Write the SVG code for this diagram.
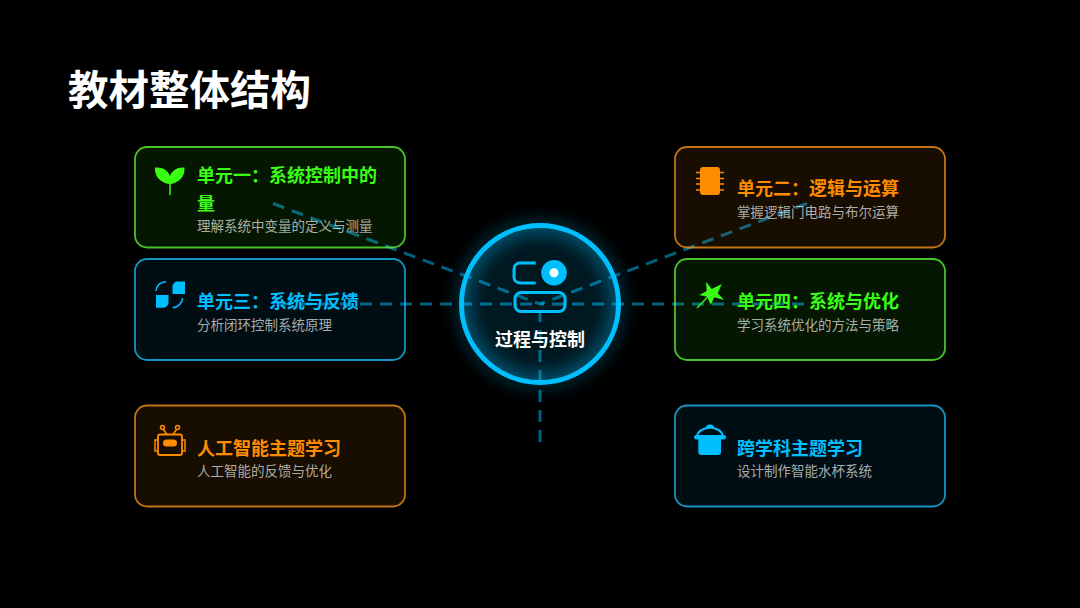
<svg xmlns="http://www.w3.org/2000/svg" width="1080" height="608" viewBox="0 0 1080 608">
<style>
text{font-family:"Noto Sans CJK SC","Noto Sans",sans-serif}
.h{font-size:40.500px;font-weight:700;fill:#fff}
.t{font-size:18px;font-weight:700}
.s{font-size:13.500px;fill:#fff;fill-opacity:.66}
.card{stroke-width:1.800;stroke-opacity:.75}
.g .card{fill:#39ff14;fill-opacity:.09;stroke:#5dff3a}
.o .card{fill:#ff8c00;fill-opacity:.09;stroke:#ff9a1f}
.b .card{fill:#00bfff;fill-opacity:.07;stroke:#1cc4ff}
.g .t{fill:#39ff14}.o .t{fill:#ff8c00}.b .t{fill:#00bfff}
.g .f{fill:#39ff14}.o .f{fill:#ff8c00}.b .f{fill:#00bfff}
.g .l{stroke:#39ff14;fill:none}.o .l{stroke:#ff8c00;fill:none}.b .l{stroke:#00bfff;fill:none}
#connectors line{stroke:#00bfff;stroke-opacity:.5;stroke-width:3;stroke-dasharray:12 8}
</style>
<defs>
<radialGradient id="cg" cx=".5" cy=".5" r=".5"><stop offset="0" stop-color="#00bfff" stop-opacity=".12"/><stop offset=".7" stop-color="#00bfff" stop-opacity=".13"/><stop offset="1" stop-color="#00bfff" stop-opacity=".3"/></radialGradient>
<filter id="blur" x="-30%" y="-30%" width="160%" height="160%"><feGaussianBlur stdDeviation="8"/></filter>
</defs>
<rect width="1080" height="608" fill="#000"/>
<text class="h" x="68" y="105">教材整体结构</text>
<g id="connectors">
<line x1="273" y1="203.500" x2="540" y2="304"/>
<line x1="807" y1="203.500" x2="540" y2="304"/>
<line x1="280" y1="304" x2="540" y2="304"/>
<line x1="804" y1="304" x2="540" y2="304"/>
<line x1="540" y1="442" x2="540" y2="304"/>
</g>
<g id="unit1" class="g">
<rect class="card" x="135" y="147" width="270" height="100.500" rx="12"/>
<path class="f" d="M169.500 184C161 183 154.500 177 155 167.500C162 166.800 168 170 170 176C172 170 178 166.800 184.500 167.500C185 177 178.500 183 170.500 184Z"/>
<path class="l" stroke-width="1.500" d="M170 180V195"/>
<text class="t" x="197" y="182">单元一：系统控制中的</text>
<text class="t" x="197" y="210">量</text>
<text class="s" x="197" y="231">理解系统中变量的定义与测量</text>
</g>
<g id="unit3" class="b">
<rect class="card" x="135" y="259" width="270" height="101" rx="12"/>
<path class="f" d="M185 281.500V294H172.500V287C172.500 283.500 175 281.500 178 281.500ZM156 295H168.500V302C168.500 305.500 166 307.800 162 307.800H156Z"/>
<path class="l" stroke-width="1.500" d="M156 291C156 286 160 282 166 281.800M182.500 298C182.500 303 178 307.500 172.700 307.700"/>
<text class="t" x="197" y="308">单元三：系统与反馈</text>
<text class="s" x="197" y="330">分析闭环控制系统原理</text>
</g>
<g id="unit5" class="o">
<rect class="card" x="135" y="405.500" width="270" height="101" rx="12"/>
<rect class="l" stroke-width="1.800" x="158" y="434.500" width="24" height="20.500" rx="2"/>
<path class="l" stroke-width="1.500" d="M158 440H155V451H158M182 440H185V451H182M167 434.500L163.500 429.500M173 434.500L176.500 429.500"/>
<circle class="l" stroke-width="1.500" cx="162.500" cy="427.500" r="2"/>
<circle class="l" stroke-width="1.500" cx="177.500" cy="427.500" r="2"/>
<rect class="f" x="163" y="439.500" width="14" height="7" rx="3.500"/>
<text class="t" x="197" y="454.500">人工智能主题学习</text>
<text class="s" x="197" y="476">人工智能的反馈与优化</text>
</g>
<g id="unit2" class="o">
<rect class="card" x="675" y="147" width="270" height="100.500" rx="12"/>
<rect class="f" x="700" y="167" width="20" height="28" rx="3"/>
<path class="l" stroke-width="1.500" d="M696 172.500H724M696 178.500H724M696 184H724M696 190H724"/>
<text class="t" x="737" y="195">单元二：逻辑与运算</text>
<text class="s" x="737" y="217">掌握逻辑门电路与布尔运算</text>
</g>
<g id="unit4" class="g">
<rect class="card" x="675" y="259" width="270" height="101" rx="12"/>
<polygon class="f" points="706,281.700 711.700,289 721.700,284 717.700,293.300 724,300 714.300,297.300 710.700,305 707.300,296.700 699.300,295 706.700,291"/>
<path class="l" stroke-width="1.200" d="M708 296.500L697 308"/>
<text class="t" x="737" y="308">单元四：系统与优化</text>
<text class="s" x="737" y="330">学习系统优化的方法与策略</text>
</g>
<g id="unit6" class="b">
<rect class="card" x="675" y="405.500" width="270" height="101" rx="12"/>
<path class="l" stroke-width="2" d="M696.500 437C698 431 704 428 710 427.500C716 428 722 431 723.500 437"/>
<path class="f" d="M706 428C706 425 708 424.500 710 424.500C712 424.500 714 425 714 428Z"/>
<rect class="f" x="694" y="435" width="32" height="4.500" rx="2.200"/>
<path class="f" d="M698.300 438H721V452C721 454 720 455 718 455H701.300C699.300 455 698.300 454 698.300 452Z"/>
<text class="t" x="737" y="454.500">跨学科主题学习</text>
<text class="s" x="737" y="476">设计制作智能水杯系统</text>
</g>
<g id="center">
<circle cx="540" cy="304" r="80" fill="none" stroke="#00bfff" stroke-width="6" stroke-opacity=".45" filter="url(#blur)"/>
<circle cx="540" cy="304" r="78.500" fill="url(#cg)" stroke="#00bfff" stroke-width="5"/>
<path d="M535.700 263H520C516.500 263 514 265.500 514 269V277C514 280.500 516.500 283 520 283H535.700" fill="none" stroke="#00bfff" stroke-width="3"/>
<circle cx="554" cy="272.700" r="12.800" fill="#00bfff"/>
<circle cx="554" cy="272.700" r="4.500" fill="#fff"/>
<rect x="515" y="292.500" width="50" height="19" rx="6" fill="none" stroke="#00bfff" stroke-width="3"/>
<text x="540" y="346" text-anchor="middle" font-size="18" font-weight="700" fill="#fff">过程与控制</text>
</g>
</svg>
